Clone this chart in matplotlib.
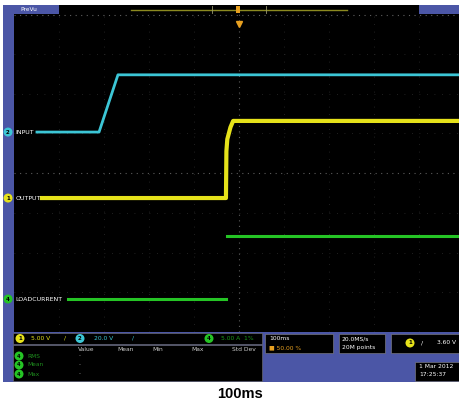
import matplotlib.pyplot as plt
import matplotlib.patches as mpatches
import numpy as np

# trace data, in graticule divisions (x: -5..5, y: -4..4)
input_t = [-4.49, -3.11, -2.69, 5.0]
input_v = [1.03, 1.03, 2.47, 2.47]

output_t = [-4.38, -0.29, -0.28, -0.26, -0.19, -0.13, 5.0]
output_v = [-0.63, -0.63, 0.55, 0.85, 1.15, 1.31, 1.31]

load_t = [-3.8, -0.29, np.nan, -0.27, 5.0]
load_v = [-3.17, -3.17, np.nan, -1.58, -1.58]

channel_names = ["INPUT", "OUTPUT", "LOADCURRENT"]
channel_nums = ["2", "1", "4"]
channel_colors = ["#3cc6d6", "#e6e21a", "#25c425"]

meas_header = ["Value", "Mean", "Min", "Max", "Std Dev"]
meas_rows = ["RMS", "Mean", "Max"]

W, H = 460, 405
BLUE = "#4b56a6"

fig = plt.figure(figsize=(W / 100, H / 100), dpi=100)
fig.patch.set_facecolor("white")


def fx(x):
    return x / W


def fy(y):
    return 1 - y / H


def box(x0, y0, x1, y1, color, ec="none", lw=0.0, z=1):
    fig.patches.append(mpatches.Rectangle((fx(x0), fy(y1)), fx(x1) - fx(x0), fy(y0) - fy(y1),
                                          transform=fig.transFigure, facecolor=color,
                                          edgecolor=ec, linewidth=lw, zorder=z))


def txt(x, y, s, color="white", size=4.5, ha="left", weight="normal", z=5):
    fig.text(fx(x), fy(y), s, color=color, fontsize=size, ha=ha, va="center",
             weight=weight, zorder=z, family="DejaVu Sans")


def badge(x, y, num, color, size=4.0):
    fig.patches.append(mpatches.Ellipse((fx(x), fy(y)), 9 / W, 9 / H, transform=fig.transFigure,
                                        facecolor=color, edgecolor="none", zorder=6))
    fig.text(fx(x), fy(y), num, color="black", fontsize=size, ha="center", va="center",
             weight="bold", zorder=7)


# scope frame
box(3, 5, 460, 382, BLUE, z=-1)
box(13, 5, 460, 14, "black", z=2)
box(3, 5, 59, 14, BLUE, z=3)
box(419, 5, 460, 14, BLUE, z=3)
txt(20, 9.5, "PreVu", size=4.2)
fig.lines.append(plt.Line2D([fx(131), fx(347)], [fy(10), fy(10)], transform=fig.transFigure,
                            color="#8c8a20", lw=1.0, zorder=4))
for xm in (212, 266):
    fig.lines.append(plt.Line2D([fx(xm), fx(xm)], [fy(6), fy(13)], transform=fig.transFigure,
                                color="#9a9a70", lw=0.6, zorder=4))
fig.patches.append(mpatches.Rectangle((fx(236), fy(13)), 4 / W, 7 / H, transform=fig.transFigure,
                                      facecolor="#e8a020", edgecolor="none", zorder=5))

# graticule
ax = fig.add_axes([fx(14), fy(332), 450 / W, 318 / H])
ax.set_zorder(1)
ax.set_facecolor("black")
ax.set_xlim(-5, 5)
ax.set_ylim(-4, 4)
ax.set_xticks([])
ax.set_yticks([])
for s in ax.spines.values():
    s.set_visible(False)

for gx in range(-4, 5):
    if gx != 0:
        ax.plot([gx, gx], [-4, 4], color="#2c2c2c", lw=0.6, ls=(0, (1, 8)), zorder=1)
for gy in range(-3, 4):
    if gy != 0:
        ax.plot([-5, 5], [gy, gy], color="#2c2c2c", lw=0.6, ls=(0, (1, 8)), zorder=1)
ax.plot([0, 0], [-4, 4], color="#5c5c5c", lw=0.8, ls=(0, (1, 4)), zorder=1)
ax.plot([-5, 5], [0, 0], color="#5c5c5c", lw=0.8, ls=(0, (1, 4)), zorder=1)
ax.plot([-5, 5], [3.98, 3.98], color="#606060", lw=0.8, ls=(0, (1, 4)), zorder=1)
ax.plot([0], [3.75], marker="v", color="#e8a020", ms=4, zorder=3)

ax.plot(input_t, input_v, color=channel_colors[0], lw=2.0, zorder=4)
ax.plot(output_t, output_v, color=channel_colors[1], lw=3.0, zorder=4)
ax.plot(load_t, load_v, color=channel_colors[2], lw=2.2, zorder=4)

first_v = [input_v[0], output_v[0], load_v[0]]
for name, num, col, v in zip(channel_names, channel_nums, channel_colors, first_v):
    ax.annotate(name, xy=(0, v), xycoords=("axes fraction", "data"), xytext=(1, 0),
                textcoords="offset points", color="white", fontsize=4.5, va="center",
                ha="left", annotation_clip=False, zorder=6)
    ypix = 332 - (v + 4) / 8 * 318
    badge(8, ypix, num, col)

# bottom readout panel
box(13, 333, 262, 344, "black", ec="#777777", lw=0.4, z=2)
badge(20, 338.5, "1", channel_colors[1])
txt(31, 338.5, "5.00 V", channel_colors[1], 4.3)
txt(64, 338.5, "/", channel_colors[1], 4.3)
badge(80, 338.5, "2", channel_colors[0])
txt(94, 338.5, "20.0 V", channel_colors[0], 4.3)
txt(132, 338.5, "/", channel_colors[0], 4.3)
badge(209, 338.5, "4", channel_colors[2])
txt(221, 338.5, "5.00 A  1%", "#1a9a1a", 4.3)

box(13, 345, 262, 381, "black", ec="#777777", lw=0.4, z=2)
for s, xh in zip(meas_header, (86, 126, 158, 198, 244)):
    txt(xh, 349.5, s, "#cccccc", 4.3, ha="center")
for i, r in enumerate(meas_rows):
    yy = 356 + i * 9
    badge(19, yy, "4", channel_colors[2], 3.6)
    txt(27, yy, r, "#1e8c1e", 4.2)
    txt(79, yy, "-", "#999999", 4.0)

box(265, 334, 333, 353, "black", ec="#888888", lw=0.4, z=2)
txt(269, 339, "100ms", "white", 4.3)
txt(269, 347.5, "■ 50.00 %", "#e8a020", 4.3)

box(339, 334, 385, 353, "black", ec="#888888", lw=0.4, z=2)
txt(342, 339, "20.0MS/s", "white", 4.3)
txt(342, 347.5, "20M points", "white", 4.3)

box(391, 334, 462, 353, "black", ec="#888888", lw=0.4, z=2)
badge(410, 343, "1", channel_colors[1])
txt(421, 343, "/", "white", 4.5)
txt(437, 343, "3.60 V", "white", 4.3)

box(415, 362, 462, 381, "black", ec="#888888", lw=0.4, z=2)
txt(419, 366.5, "1 Mar 2012", "white", 4.3)
txt(419, 375, "17:25:37", "white", 4.3)

fig.text(fx(240), fy(394), "100ms", ha="center", va="center", fontsize=10.5,
         weight="bold", family="Liberation Sans", color="black")

fig.savefig("out.png", dpi=100, facecolor="white")
